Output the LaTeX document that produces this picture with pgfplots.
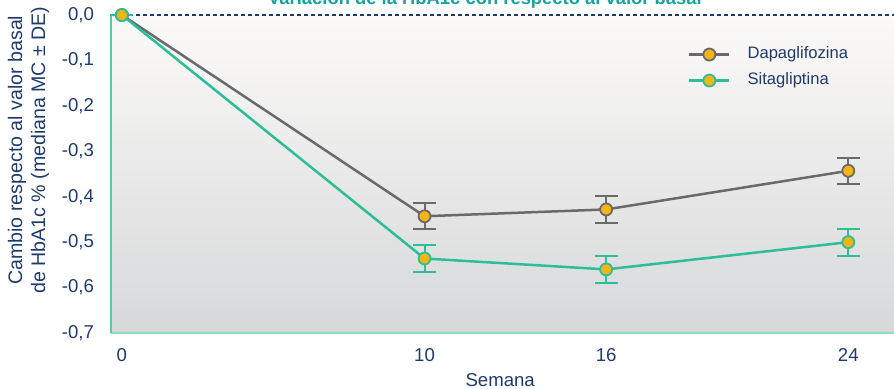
\documentclass[border=0pt]{standalone}
\usepackage{pgfplots}
\pgfplotsset{compat=1.18}
\usepackage{fontspec}
\setmainfont{Liberation Sans}
\definecolor{navy}{HTML}{1F3B6B}
\definecolor{titleteal}{HTML}{17A39C}
\definecolor{dapa}{HTML}{6A6A6C}
\definecolor{sita}{HTML}{2BBE98}
\definecolor{mk}{HTML}{F6B514}
\definecolor{yaxis}{HTML}{5CC9A8}
\definecolor{xaxis}{HTML}{8EDCC0}
\definecolor{bgtop}{HTML}{FBFAF8}
\definecolor{bgmid}{HTML}{F0F0EF}
\definecolor{bgbot}{HTML}{D7D8DA}

\pgfplotstableread{
x y e
0 0 0
10 -0.443 0.029
16 -0.428 0.029
24 -0.343 0.029
}\dapatab
\pgfplotstableread{
x y e
0 0 0
10 -0.536 0.030
16 -0.560 0.030
24 -0.500 0.030
}\sitatab

\begin{document}
\begin{tikzpicture}
\useasboundingbox (-55.5pt,-27.5pt) rectangle (391.5pt,166.5pt);
\clip (-55.5pt,-27.5pt) rectangle (391.5pt,166.5pt);
\begin{axis}[
  at={(0pt,0pt)}, anchor=south west,
  scale only axis, width=391.5pt, height=159pt,
  xmin=-0.36, xmax=25.51, ymin=-0.7, ymax=0,
  clip=false,
  axis x line=bottom, axis y line=left,
  x axis line style={-, draw=xaxis, line width=0.8pt},
  y axis line style={-, draw=yaxis, line width=0.6pt},
  axis background/.style={top color=bgtop, middle color=bgmid, bottom color=bgbot},
  major tick length=0pt,
  xtick={0,10,16,24}, xticklabels={0,10,16,24},
  ytick={-0.7,-0.6,-0.5,-0.4,-0.3,-0.2,-0.1,0},
  yticklabels={{-0,7},{-0,6},{-0,5},{-0,4},{-0,3},{-0,2},{-0,1},{0,0}},
  yticklabel style={font=\fontsize{9.3}{11}\selectfont, text=navy, xshift=-5pt},
  xticklabel style={font=\fontsize{9.3}{11}\selectfont, text=navy, yshift=-4pt},
  xlabel={Semana},
  xlabel style={font=\fontsize{9.3}{11}\selectfont, text=navy, at={(axis description cs:0.497,0)}, anchor=center, yshift=-23.5pt},
  ylabel={Cambio respecto al valor basal\\de HbA1c \% (mediana MC ± DE)},
  ylabel style={font=\fontsize{9.8}{11.5}\selectfont, text=navy, align=center, at={(axis description cs:-0.1054,0.575)}, anchor=center},
  legend style={draw=none, fill=none, at={(0.729,0.921)}, anchor=north west,
    font=\fontsize{8.3}{10}\selectfont, text=navy, row sep=3pt,
    nodes={inner sep=1pt, text height=6pt, text depth=2pt},
    /tikz/every odd column/.append style={column sep=7.5pt}},
  legend cell align=left,
  legend image code/.code={\draw[mark repeat=2, mark phase=2] plot coordinates {(0cm,0cm) (0.35cm,0cm) (0.7cm,0cm)};},
]
\draw[navy, line width=0.75pt, dash pattern=on 2pt off 1.5pt] (axis cs:0,0) -- (rel axis cs:1,1);
\addplot[dapa, line width=1.25pt, mark=*, mark size=3pt, mark options={fill=mk, draw=dapa, line width=0.9pt},
  error bars/.cd, y dir=both, y explicit, error mark=-,
  error bar style={line width=1pt, dapa},
  error mark options={rotate=90, mark size=5.75pt, line width=1pt, dapa}]
  table[x=x, y=y, y error=e] {\dapatab};
\addlegendentry{Dapaglifozina}
\addplot[sita, line width=1.25pt, mark=*, mark size=3pt, mark options={fill=mk, draw=sita, line width=0.9pt},
  error bars/.cd, y dir=both, y explicit, error mark=-,
  error bar style={line width=1pt, sita},
  error mark options={rotate=90, mark size=5.75pt, line width=1pt, sita}]
  table[x=x, y=y, y error=e] {\sitatab};
\addlegendentry{Sitagliptina}
\end{axis}
\node[anchor=base, font=\bfseries\fontsize{9.2}{11}\selectfont, text=titleteal] at (187pt,164.5pt) {Variación de la HbA1c con respecto al valor basal};
\end{tikzpicture}
\end{document}
